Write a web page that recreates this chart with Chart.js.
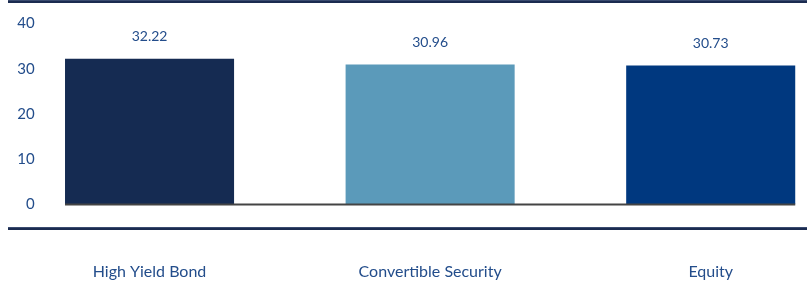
<!DOCTYPE html>
<html>
<head>
<meta charset="utf-8">
<script src="https://cdn.jsdelivr.net/npm/chart.js@4.4.1/dist/chart.umd.min.js"></script>
<style>
html,body{margin:0;padding:0;background:#fff;overflow:hidden;width:807px;height:285px}
#wrap{position:absolute;left:0;top:0;width:851px;height:285px}
.rule{position:absolute;left:8px;right:0;height:3px;background:#1b2b50;border-top:1px solid #3b4c70;box-sizing:border-box}
</style>
</head>
<body>
<div class="rule" style="top:0"></div>
<div class="rule" style="top:227px"></div>
<div id="wrap"><canvas id="c"></canvas></div>
<script>
// data
var categories=["High Yield Bond","Convertible Security","Equity"];
var values=[32.22,30.96,30.73];
var barColors=["#152b52","#5b9aba","#00387f"];
var yTicks=[0,10,20,30,40];

var txt="#234d8b";
var fontFam="Lato, 'Open Sans', sans-serif";

// value labels above bars + grey baseline under the bars
var barExtras={
  id:"barExtras",
  afterDatasetsDraw:function(chart){
    var ctx=chart.ctx,meta=chart.getDatasetMeta(0),y0=chart.scales.y.getPixelForValue(0);
    ctx.save();
    ctx.font="14px "+fontFam;
    ctx.fillStyle=txt;
    ctx.textAlign="center";
    ctx.textBaseline="middle";
    meta.data.forEach(function(b,i){
      ctx.fillText(values[i].toFixed(2),b.x,b.y-22);
    });
    var first=meta.data[0],last=meta.data[meta.data.length-1];
    ctx.strokeStyle="#444";
    ctx.lineWidth=2;
    ctx.beginPath();
    ctx.moveTo(first.x-first.width/2,y0);
    ctx.lineTo(last.x+last.width/2,y0);
    ctx.stroke();
    ctx.restore();
  }
};

new Chart(document.getElementById("c"),{
  type:"bar",
  data:{labels:categories,datasets:[{data:values,backgroundColor:barColors,categoryPercentage:1,barPercentage:0.6025}]},
  options:{
    responsive:true,maintainAspectRatio:false,animation:false,
    layout:{padding:{left:9.25,right:0,top:23.5,bottom:0}},
    plugins:{legend:{display:false},tooltip:{enabled:false}},
    scales:{
      x:{
        grid:{display:false,drawTicks:false},border:{display:false},
        ticks:{color:txt,font:{family:fontFam,size:16},padding:58},
        afterFit:function(s){s.height=80.5}
      },
      y:{
        min:0,max:40,
        grid:{display:false,drawTicks:false},border:{display:false},
        afterBuildTicks:function(s){s.ticks=yTicks.map(function(v){return {value:v}})},
        ticks:{mirror:true,crossAlign:"far",padding:8,color:txt,font:{family:fontFam,size:15}},
        afterFit:function(s){s.width=0}
      }
    }
  },
  plugins:[barExtras]
});
</script>
</body>
</html>
